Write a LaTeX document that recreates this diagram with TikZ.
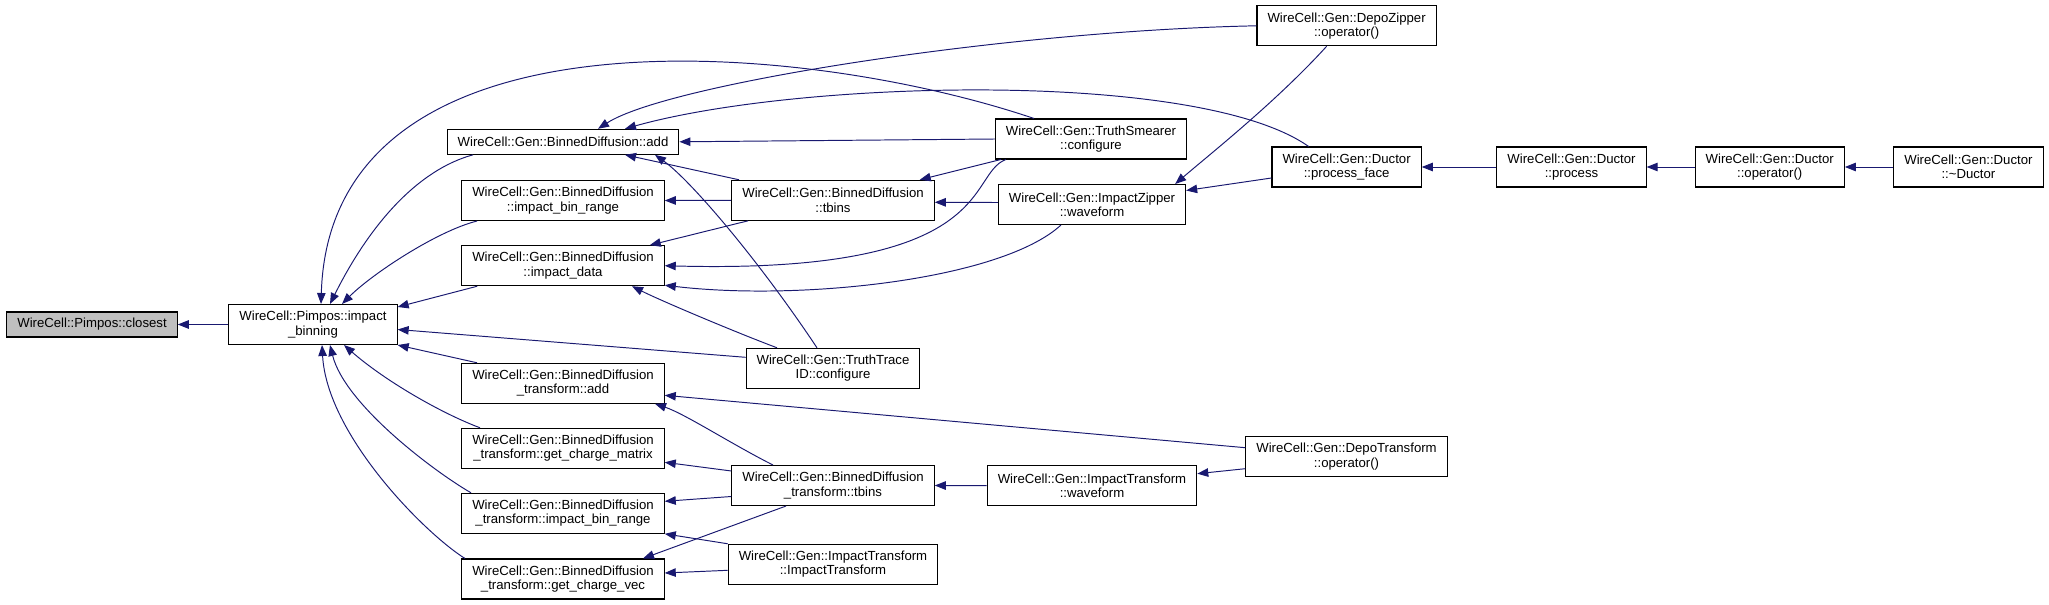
\documentclass[tikz,border=0pt]{standalone}
\usepackage{fontspec}
\setmainfont{Liberation Sans}
\usetikzlibrary{calc,arrows.meta}
\definecolor{edgeblue}{RGB}{25,25,112}
\definecolor{focusgray}{RGB}{191,191,191}

\begin{document}
\begin{tikzpicture}[x=0.02cm,y=-0.02cm,
  fn/.style={draw=black,fill=white,line width=0.6pt,align=center,
             font=\fontsize{7.5}{8.1}\selectfont,inner xsep=6pt,inner ysep=0pt,
             minimum height=0.5cm},
  two/.style={minimum height=0.8cm},
  arr/.style={-{Triangle[length=0.22cm,width=0.17cm]},line width=0.55pt,color=edgeblue}]
  \useasboundingbox (0,0) rectangle (2049,605);
  \node[fn,fill=focusgray] (closest) at (92,324.5)  {WireCell::Pimpos::closest};
  \node[fn,two] (binning)  at (313,324.5)  {WireCell::Pimpos::impact\\\_binning};
  \node[fn]     (bdadd)    at (563,141.8)  {WireCell::Gen::BinnedDiffusion::add};
  \node[fn,two] (bdibr)    at (563,200.5)  {WireCell::Gen::BinnedDiffusion\\::impact\_bin\_range};
  \node[fn,two] (bddata)   at (563,265.7)  {WireCell::Gen::BinnedDiffusion\\::impact\_data};
  \node[fn,two] (bdtadd)   at (563,383.3)  {WireCell::Gen::BinnedDiffusion\\\_transform::add};
  \node[fn,two] (bdtgcm)   at (563,448.3)  {WireCell::Gen::BinnedDiffusion\\\_transform::get\_charge\_matrix};
  \node[fn,two] (bdtibr)   at (563,513.3)  {WireCell::Gen::BinnedDiffusion\\\_transform::impact\_bin\_range};
  \node[fn,two] (bdtgcv)   at (563,579)    {WireCell::Gen::BinnedDiffusion\\\_transform::get\_charge\_vec};
  \node[fn,two] (bdtbins)  at (833,200.3)  {WireCell::Gen::BinnedDiffusion\\::tbins};
  \node[fn,two] (ttid)     at (833,368.3)  {WireCell::Gen::TruthTrace\\ID::configure};
  \node[fn,two] (bdttbins) at (833,485.5)  {WireCell::Gen::BinnedDiffusion\\\_transform::tbins};
  \node[fn,two] (itit)     at (833,564.3)  {WireCell::Gen::ImpactTransform\\::ImpactTransform};
  \node[fn,two] (tsconf)   at (1091,139)   {WireCell::Gen::TruthSmearer\\::configure};
  \node[fn,two] (izwave)   at (1092,204.5) {WireCell::Gen::ImpactZipper\\::waveform};
  \node[fn,two] (itwave)   at (1092,485.7) {WireCell::Gen::ImpactTransform\\::waveform};
  \node[fn,two] (dzop)     at (1346.6,25.8){WireCell::Gen::DepoZipper\\::operator()};
  \node[fn,two] (pface)    at (1346.6,167) {WireCell::Gen::Ductor\\::process\_face};
  \node[fn,two] (depotr)   at (1346.5,456.7){WireCell::Gen::DepoTransform\\::operator()};
  \node[fn,two] (dprocess) at (1571.5,167) {WireCell::Gen::Ductor\\::process};
  \node[fn,two] (dop)      at (1769.7,167) {WireCell::Gen::Ductor\\::operator()};
  \node[fn,two] (ddtor)    at (1968.4,167) {WireCell::Gen::Ductor\\::\textasciitilde Ductor};

  \draw[arr] (binning.west) -- (closest.east);
  \draw[arr] ($(bdadd.south)+(-90,0)$) .. controls +(-55,15) and +(40,-80) .. ($(binning.north)+(17,0)$);
  \draw[arr] ($(bdibr.south)+(-86,0)$) .. controls +(-40,10) and +(30,-30) .. ($(binning.north)+(29,0)$);
  \draw[arr] ($(bddata.south west)+(16,0)$) -- ($(binning.north east)+(0,3)$);
  \draw[arr] ($(ttid.west)+(0,-11)$) -- ($(binning.east)+(0,5)$);
  \draw[arr] ($(bdtadd.north)+(-86,0)$) -- (binning.south east);
  \draw[arr] ($(tsconf.north)+(-57,0)$) .. controls +(-234,-79) and +(9,-305) .. ($(binning.north)+(8,0)$);
  \draw[arr] ($(bdtgcm.north)+(-83,0)$) .. controls +(-40,-15) and +(40,35) .. ($(binning.south)+(31,0)$);
  \draw[arr] ($(bdtibr.north)+(-92,0)$) .. controls +(-35,-20) and +(15,60) .. ($(binning.south)+(17,0)$);
  \draw[arr] ($(bdtgcv.north)+(-98,0)$) .. controls +(-40,-25) and +(5,90) .. ($(binning.south)+(9,0)$);

  \draw[arr] (dzop.west) .. controls +(-250,5) and +(70,-45) .. ($(bdadd.north)+(35,0)$);
  \draw[arr] ($(pface.north)+(-38,0)$) .. controls +(-109,-77) and +(175,-49) .. ($(bdadd.north)+(62,0)$);
  \draw[arr] (tsconf.west) -- (bdadd.east);
  \draw[arr] ($(bdtbins.north)+(-94,0)$) -- ($(bdadd.south)+(62,0)$);
  \draw[arr] ($(ttid.north)+(-16,0)$) .. controls +(-60,-90) and +(35,25) .. ($(bdadd.south)+(92,0)$);
  \draw[arr] (bdtbins.west) -- (bdibr.east);
  \draw[arr] ($(tsconf.south west)+(6,0)$) -- ($(bdtbins.north east)+(-15,0)$);
  \draw[arr] ($(izwave.west)+(0,-2)$) -- ($(bdtbins.east)+(0,2)$);
  \draw[arr] ($(bdtbins.south)+(-85,0)$) -- ($(bddata.north east)+(-15,0)$);
  \draw[arr] ($(tsconf.south west)+(11,0)$) .. controls +(-40,15) and +(335,9) .. (bddata.east);
  \draw[arr] ($(izwave.south)+(-31,0)$) .. controls +(-60,55) and +(135,16) .. ($(bddata.south east)+(0,-1)$);
  \draw[arr] ($(ttid.north)+(-56,0)$) .. controls +(-40,-15) and +(30,15) .. ($(bddata.south)+(69,0)$);
  \draw[arr] ($(dzop.south)+(-20,0)$) .. controls +(-50,55) and +(35,-30) .. ($(izwave.north east)+(-11,0)$);
  \draw[arr] ($(pface.west)+(0,11)$) -- ($(izwave.east)+(0,-14)$);
  \draw[arr] (dprocess.west) -- (pface.east);
  \draw[arr] (dop.west) -- (dprocess.east);
  \draw[arr] (ddtor.west) -- (dop.east);

  \draw[arr] ($(depotr.west)+(0,-9)$) -- ($(bdtadd.east)+(0,12)$);
  \draw[arr] ($(bdttbins.north)+(-60,0)$) .. controls +(-40,-20) and +(30,10) .. ($(bdtadd.south)+(92,0)$);
  \draw[arr] ($(bdttbins.north west)+(0,6)$) -- ($(bdtgcm.east)+(0,14)$);
  \draw[arr] ($(bdttbins.west)+(0,11)$) -- ($(bdtibr.east)+(0,-12)$);
  \draw[arr] (itit.north west) -- (bdtibr.south east);
  \draw[arr] ($(bdttbins.south)+(-47,0)$) -- ($(bdtgcv.north)+(80,0)$);
  \draw[arr] ($(itit.west)+(0,6)$) -- ($(bdtgcv.east)+(0,-6)$);
  \draw[arr] (itwave.west) -- (bdttbins.east);
  \draw[arr] ($(depotr.west)+(0,12)$) -- ($(itwave.east)+(0,-12)$);
\end{tikzpicture}
\end{document}
